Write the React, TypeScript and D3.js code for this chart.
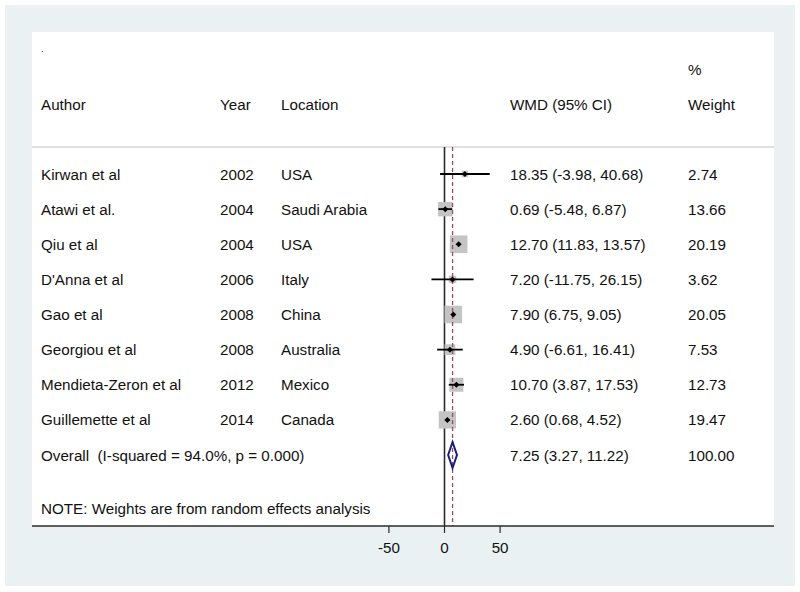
import React from "react";
import * as d3 from "d3";

const authors = ["Kirwan et al", "Atawi et al.", "Qiu et al", "D'Anna et al", "Gao et al", "Georgiou et al", "Mendieta-Zeron et al", "Guillemette et al"];
const years = ["2002", "2004", "2004", "2006", "2008", "2008", "2012", "2014"];
const locations = ["USA", "Saudi Arabia", "USA", "Italy", "China", "Australia", "Mexico", "Canada"];
const wmd = [18.35, 0.69, 12.7, 7.2, 7.9, 4.9, 10.7, 2.6];
const lower = [-3.98, -5.48, 11.83, -11.75, 6.75, -6.61, 3.87, 0.68];
const upper = [40.68, 6.87, 13.57, 26.15, 9.05, 16.41, 17.53, 4.52];
const weights = [2.74, 13.66, 20.19, 3.62, 20.05, 7.53, 12.73, 19.47];
const overall = { est: 7.25, lo: 3.27, hi: 11.22, label: "Overall  (I-squared = 94.0%, p = 0.000)", weight: "100.00" };
const xTicks = [-50, 0, 50];

export default function App() {
  const W = 800, H = 592;
  const x = d3.scaleLinear().domain([-50, 50]).range([388.9, 500.1]);
  const y = d3.scaleLinear().domain([0, 8]).range([174, 455]);
  const side = d3.scaleSqrt().domain([0, 20.19]).range([0, 17.6]);
  const font = "'Liberation Sans', Arial, sans-serif";
  const tc = "#111111";
  const fs = 15.2;
  const colX = { author: 41, year: 220, loc: 281, wmd: 510, wt: 688 };
  const plotTop = 147, plotBottom = 526;
  const f2 = d3.format(".2f");
  const fmt = (v: number) => f2(v).replace("\u2212", "-");
  const ciText = (i: number) => `${fmt(wmd[i])} (${fmt(lower[i])}, ${fmt(upper[i])})`;
  const oy = y(authors.length);
  const diamond = `M${x(overall.lo)},${oy} L${x(overall.est)},${oy - 13} L${x(overall.hi)},${oy} L${x(overall.est)},${oy + 13} Z`;
  const dy = 5.5;

  return (
    <svg width={W} height={H} style={{ position: "fixed", left: 0, top: 0 }} fontFamily={font}>
      <rect x={0} y={0} width={W} height={H} fill="#ffffff" />
      <rect x={5} y={5} width={790} height={581} fill="#eaf1f3" />
      <rect x={32} y={32} width={742} height={plotBottom - 32} fill="#ffffff" />
      <text x={41} y={52} fontSize={9} fill={tc}>.</text>
      <g fontSize={fs} fill={tc}>
        <text x={colX.wt} y={75}>%</text>
        <text x={colX.author} y={109.5}>Author</text>
        <text x={colX.year} y={109.5}>Year</text>
        <text x={colX.loc} y={109.5}>Location</text>
        <text x={colX.wmd} y={109.5}>WMD (95% CI)</text>
        <text x={colX.wt} y={109.5}>Weight</text>
      </g>
      <line x1={32} x2={774} y1={plotTop} y2={plotTop} stroke="#d6d6d6" strokeWidth={1.5} />
      <line x1={x(0)} x2={x(0)} y1={plotTop} y2={plotBottom} stroke="#2b2b2b" strokeWidth={1.6} />
      {authors.map((a, i) => {
        const s = side(weights[i]);
        return <rect key={"sq" + i} x={x(wmd[i]) - s / 2} y={y(i) - s / 2} width={s} height={s} fill="#c4c4c4" />;
      })}
      <line x1={x(overall.est)} x2={x(overall.est)} y1={plotTop} y2={plotBottom} stroke="#a04a5e" strokeWidth={1.3} strokeDasharray="4,3" />
      {authors.map((a, i) => (
        <g key={"ci" + i}>
          <line x1={x(lower[i])} x2={x(upper[i])} y1={y(i)} y2={y(i)} stroke="#000" strokeWidth={1.8} />
          <path d={`M${x(wmd[i]) - 3},${y(i)} L${x(wmd[i])},${y(i) - 3} L${x(wmd[i]) + 3},${y(i)} L${x(wmd[i])},${y(i) + 3} Z`} fill="#000" />
        </g>
      ))}
      <path d={diamond} fill="none" stroke="#1c1c7a" strokeWidth={2} />
      <g fontSize={fs} fill={tc}>
        {authors.map((a, i) => (
          <g key={"t" + i}>
            <text x={colX.author} y={y(i) + dy}>{a}</text>
            <text x={colX.year} y={y(i) + dy}>{years[i]}</text>
            <text x={colX.loc} y={y(i) + dy}>{locations[i]}</text>
            <text x={colX.wmd} y={y(i) + dy}>{ciText(i)}</text>
            <text x={colX.wt} y={y(i) + dy}>{fmt(weights[i])}</text>
          </g>
        ))}
        <text x={colX.author} y={oy + dy} style={{ whiteSpace: "pre" }}>{overall.label}</text>
        <text x={colX.wmd} y={oy + dy}>{`${fmt(overall.est)} (${fmt(overall.lo)}, ${fmt(overall.hi)})`}</text>
        <text x={colX.wt} y={oy + dy}>{overall.weight}</text>
        <text x={colX.author} y={514}>NOTE: Weights are from random effects analysis</text>
      </g>
      <line x1={32} x2={774} y1={plotBottom} y2={plotBottom} stroke="#2b2b2b" strokeWidth={1.6} />
      {xTicks.map((t) => (
        <g key={"tk" + t}>
          <line x1={x(t)} x2={x(t)} y1={plotBottom} y2={plotBottom + 7} stroke="#2b2b2b" strokeWidth={1.2} />
          <text x={x(t)} y={552.5} textAnchor="middle" fontSize={fs} fill={tc}>{t}</text>
        </g>
      ))}
    </svg>
  );
}
